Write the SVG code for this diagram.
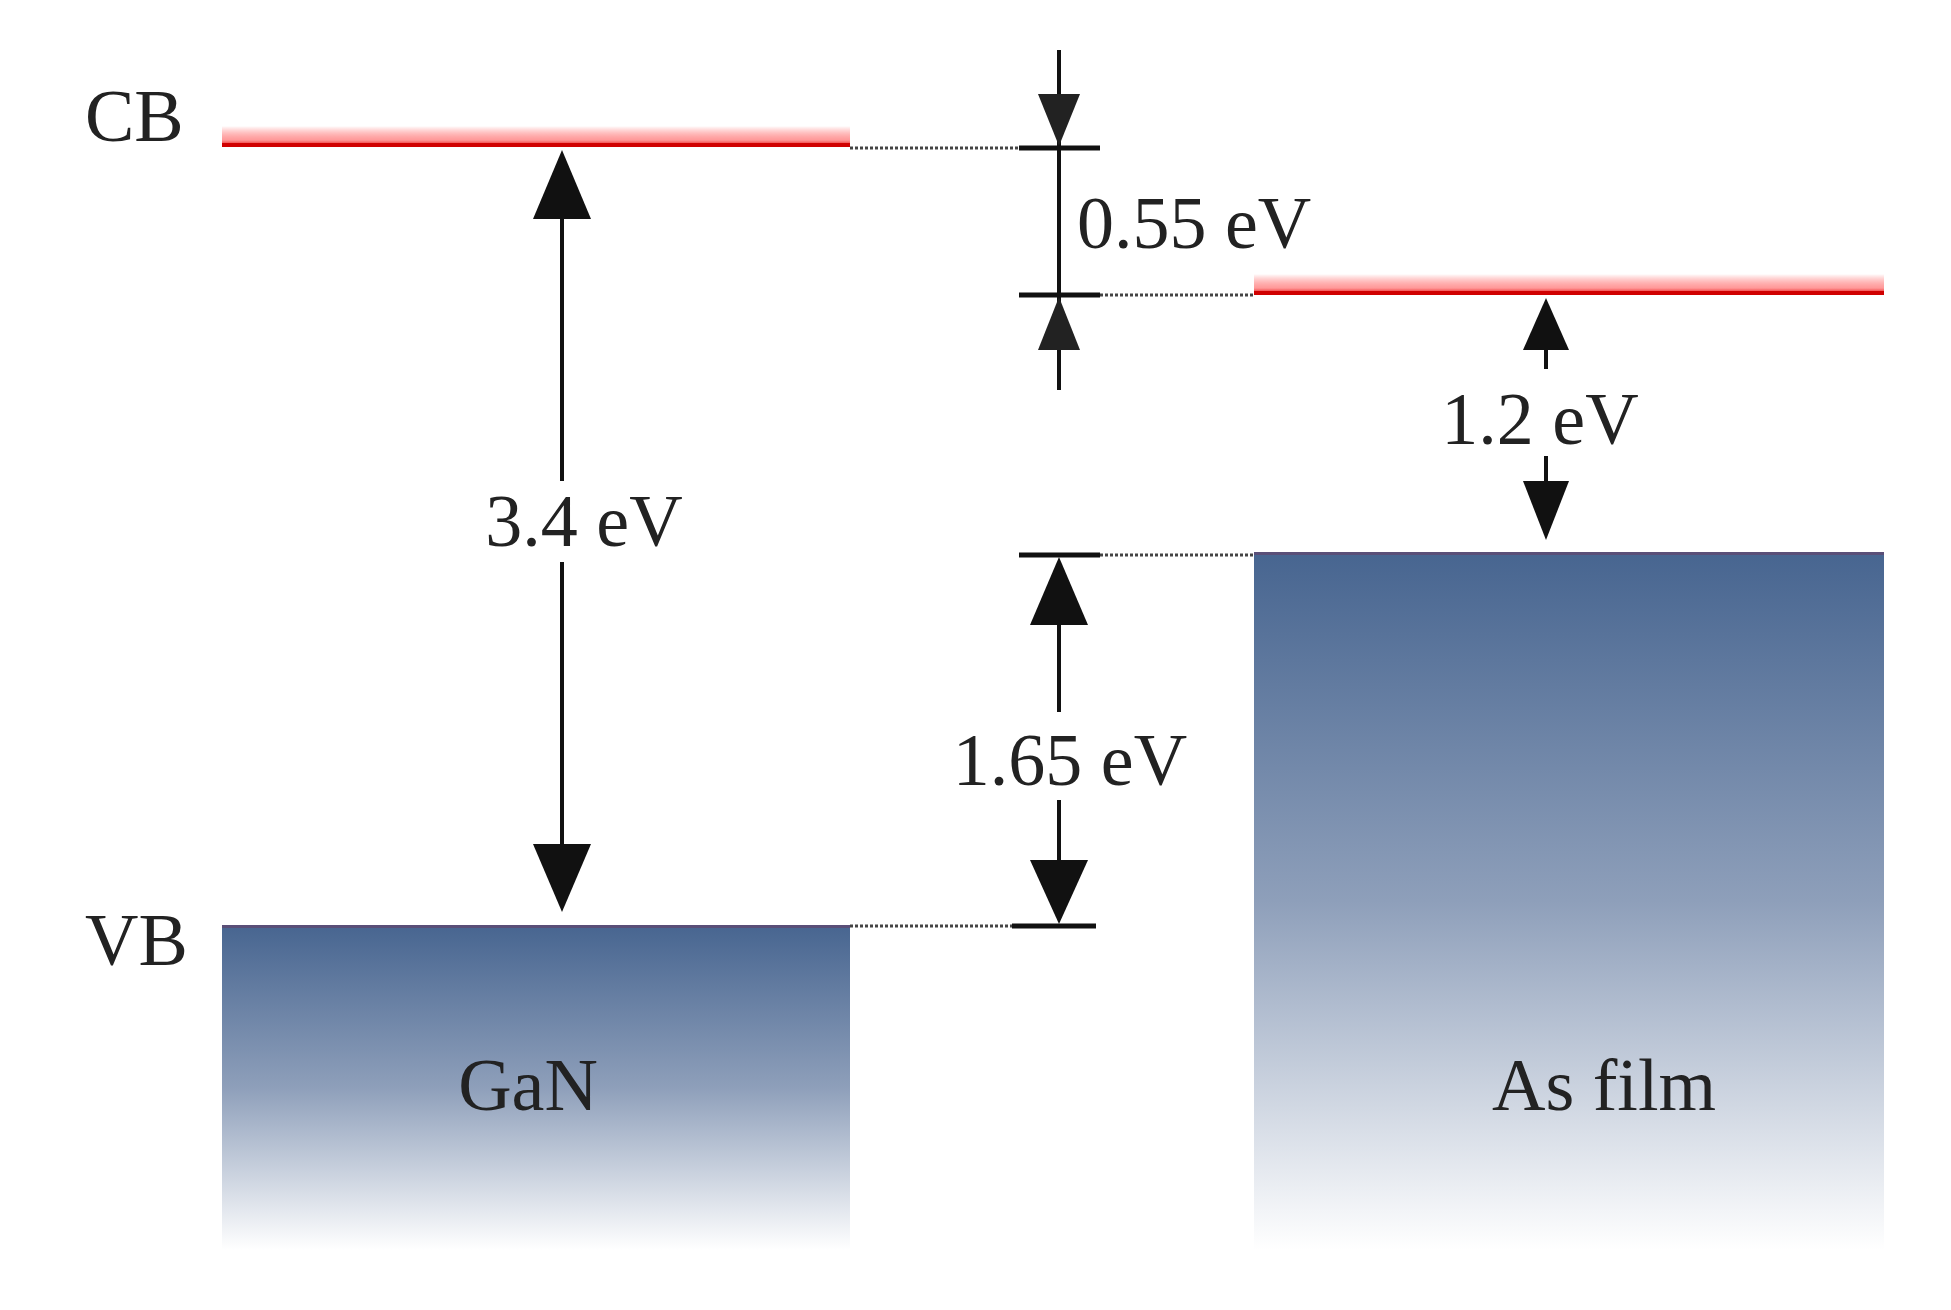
<svg xmlns="http://www.w3.org/2000/svg" width="1951" height="1310" viewBox="0 0 1951 1310">
<style>
text{font-family:"Liberation Serif","Times New Roman",serif;fill:#222}
.lbl{font-size:74px}
.ev{font-size:74px}
.dot{stroke:#444;stroke-width:3;stroke-dasharray:3 2}
.ln{stroke:#111;stroke-width:4}
.tick{stroke:#111;stroke-width:5}
</style>
<defs>
<linearGradient id="band" x1="0" y1="0" x2="0" y2="1">
<stop offset="0" stop-color="#476590"/>
<stop offset="0.5" stop-color="#8e9fba"/>
<stop offset="1" stop-color="#ffffff"/>
</linearGradient>
<linearGradient id="cb" x1="0" y1="0" x2="0" y2="1">
<stop offset="0" stop-color="#ff0000" stop-opacity="0"/>
<stop offset="0.7" stop-color="#ff5555" stop-opacity="0.6"/>
<stop offset="1" stop-color="#e00000"/>
</linearGradient>
<marker id="ah" viewBox="0 0 10 10" refX="10" refY="5" markerWidth="10" markerHeight="10" markerUnits="userSpaceOnUse" orient="auto"><path d="M0,0 L10,5 L0,10z" fill="#111"/></marker>
</defs>
<g id="gan">
<rect x="222" y="126" width="628" height="20" fill="url(#cb)"/>
<rect x="222" y="143" width="628" height="4" fill="#d00000"/>
<rect x="222" y="925" width="628" height="325" fill="url(#band)"/>
<rect x="222" y="925" width="628" height="3" fill="#5a4f78"/>
<text class="lbl" x="85" y="141">CB</text>
<text class="lbl" x="85" y="965">VB</text>
<text class="lbl" x="528" y="1110" text-anchor="middle">GaN</text>
</g>
<g id="asfilm">
<rect x="1254" y="274" width="630" height="20" fill="url(#cb)"/>
<rect x="1254" y="291" width="630" height="4" fill="#d00000"/>
<rect x="1254" y="552" width="630" height="698" fill="url(#band)"/>
<rect x="1254" y="552" width="630" height="3" fill="#5a4f78"/>
<text class="lbl" x="1604" y="1110" text-anchor="middle">As film</text>
</g>
<g id="connectors">
<line class="dot" x1="850" y1="148" x2="1020" y2="148"/>
<line class="dot" x1="1100" y1="295" x2="1254" y2="295"/>
<line class="dot" x1="1100" y1="555" x2="1254" y2="555"/>
<line class="dot" x1="850" y1="926" x2="1015" y2="926"/>
<line class="tick" x1="1019" y1="148" x2="1100" y2="148"/>
<line class="tick" x1="1019" y1="295" x2="1100" y2="295"/>
<line class="tick" x1="1019" y1="555" x2="1100" y2="555"/>
<line class="tick" x1="1012" y1="926" x2="1096" y2="926"/>
<!-- 0.55 -->
<line class="ln" x1="1059" y1="50" x2="1059" y2="390"/>
<path d="M1038,94 L1080,94 L1059,146z" fill="#222"/>
<path d="M1038,350 L1080,350 L1059,297z" fill="#222"/>
<text class="ev" x="1077" y="248">0.55 eV</text>
<!-- 1.2 -->
<line class="ln" x1="1546" y1="340" x2="1546" y2="369"/>
<path d="M1523,350 L1569,350 L1546,298z" fill="#111"/>
<text class="ev" x="1540" y="444" text-anchor="middle">1.2 eV</text>
<line class="ln" x1="1546" y1="456" x2="1546" y2="490"/>
<path d="M1523,481 L1569,481 L1546,540z" fill="#111"/>
<!-- 1.65 -->
<line class="ln" x1="1059" y1="610" x2="1059" y2="712"/>
<path d="M1030,625 L1088,625 L1059,557z" fill="#111"/>
<text class="ev" x="1070" y="785" text-anchor="middle">1.65 eV</text>
<line class="ln" x1="1059" y1="800" x2="1059" y2="870"/>
<path d="M1030,860 L1088,860 L1059,924z" fill="#111"/>
<!-- 3.4 -->
<line class="ln" x1="562" y1="210" x2="562" y2="481"/>
<path d="M533,219 L591,219 L562,150z" fill="#111"/>
<text class="ev" x="584" y="546" text-anchor="middle">3.4 eV</text>
<line class="ln" x1="562" y1="562" x2="562" y2="850"/>
<path d="M533,844 L591,844 L562,912z" fill="#111"/>
</g>
</svg>
